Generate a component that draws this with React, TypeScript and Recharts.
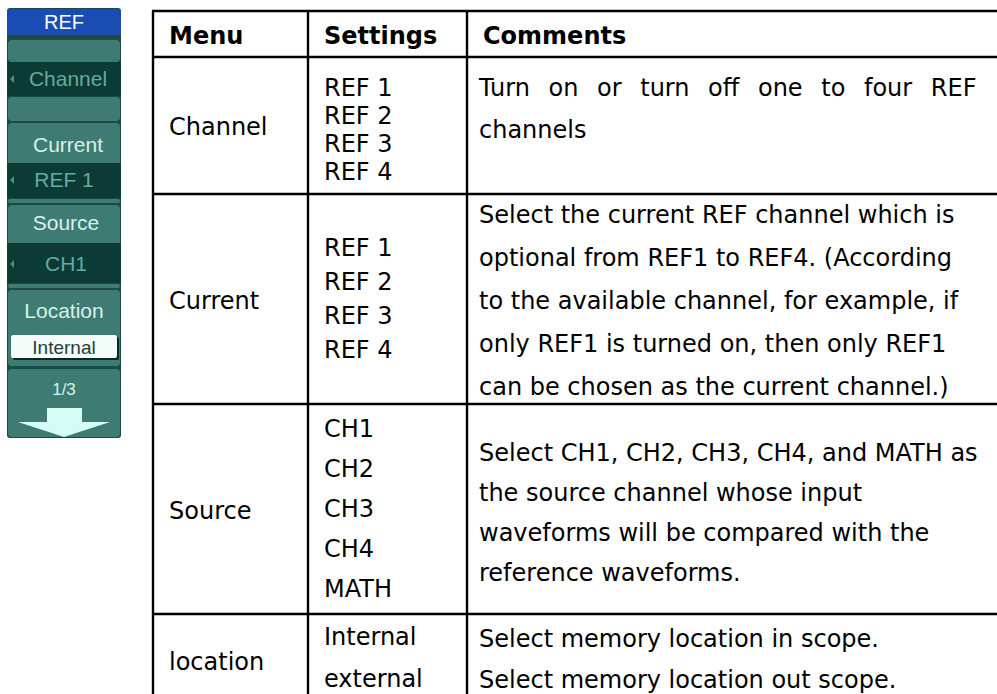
import { Surface, Layer, Rectangle, Text, Polygon } from "recharts";

const headers = ["Menu", "Settings", "Comments"];
const menuNames = ["Channel", "Current", "Source", "location"];
const settingLines = [
  ["REF 1", "REF 2", "REF 3", "REF 4"],
  ["REF 1", "REF 2", "REF 3", "REF 4"],
  ["CH1", "CH2", "CH3", "CH4", "MATH"],
  ["Internal", "external"]
];
const commentLines = [
  ["Turn on or turn off one to four REF", "channels"],
  [
    "Select the current REF channel which is",
    "optional from REF1 to REF4. (According",
    "to the available channel, for example, if",
    "only REF1 is turned on, then only REF1",
    "can be chosen as the current channel.)"
  ],
  [
    "Select CH1, CH2, CH3, CH4, and MATH as",
    "the source channel whose input",
    "waveforms will be compared with the",
    "reference waveforms."
  ],
  ["Select memory location in scope.", "Select memory location out scope."]
];
// soft key menu on the left
const softTitle = "REF";
const softKeys = [
  { label: "Channel", value: "" },
  { label: "Current", value: "REF 1" },
  { label: "Source", value: "CH1" },
  { label: "Location", value: "Internal" }
];
const pageLabel = "1/3";

const W = 997;
const H = 694;
const FONT = "'DejaVu Sans', Verdana, sans-serif";
const FS = 24;

// table grid
const colX = [153, 308, 467, 1010];
const rowY = [11, 57, 194, 404, 614, 760];
const textPad = 16;
const commentPad = 12;

// vertical placement of lines per body row
const settingStart = [87, 247, 428, 636];
const settingStep = [28, 34, 40, 42];
const commentStart = [87, 214, 452, 638];
const commentStep = [42, 43, 40, 41];
const justified = [[true, false], [], [], []];

const teal = "#3d7b73";
const dark = "#0c3a35";
const frame = "#1b4a44";
const keyText = "#d6f2ea";
const valueText = "#62ad9e";

const SoftMenu = () => {
  const x = 7;
  const w = 114;
  const cx = x + w / 2;
  const kf = "'Liberation Sans', Arial, sans-serif";
  return (
    <Layer>
      <Rectangle x={x} y={8} width={w} height={430} fill={frame} radius={3} />
      <Rectangle x={x} y={9} width={w} height={26} fill="#1a4db3" radius={[3, 3, 0, 0]} />
      <Text x={cx} y={22} textAnchor="middle" verticalAnchor="middle" fontFamily={kf} fontSize={20} fill="#ffffff">
        {softTitle}
      </Text>

      <Rectangle x={x + 1} y={40} width={w - 2} height={22} fill={teal} radius={4} />
      <Rectangle x={x} y={62} width={w} height={34} fill={dark} />
      <Polygon points={[{ x: 10, y: 79 }, { x: 14, y: 75 }, { x: 14, y: 83 }]} fill="#4d8f83" />
      <Text x={cx + 4} y={79} textAnchor="middle" verticalAnchor="middle" fontFamily={kf} fontSize={21} fill={valueText}>
        {softKeys[0].label}
      </Text>
      <Rectangle x={x + 1} y={97} width={w - 2} height={24} fill={teal} radius={4} />

      <Rectangle x={x + 1} y={123} width={w - 2} height={40} fill={teal} radius={[4, 4, 0, 0]} />
      <Text x={cx + 4} y={145} textAnchor="middle" verticalAnchor="middle" fontFamily={kf} fontSize={21} fill={keyText}>
        {softKeys[1].label}
      </Text>
      <Rectangle x={x} y={163} width={w} height={35} fill={dark} />
      <Polygon points={[{ x: 10, y: 180 }, { x: 14, y: 176 }, { x: 14, y: 184 }]} fill="#4d8f83" />
      <Text x={cx} y={180} textAnchor="middle" verticalAnchor="middle" fontFamily={kf} fontSize={21} fill={valueText}>
        {softKeys[1].value}
      </Text>
      <Rectangle x={x + 1} y={199} width={w - 2} height={4} fill={teal} radius={2} />

      <Rectangle x={x + 1} y={205} width={w - 2} height={38} fill={teal} radius={[4, 4, 0, 0]} />
      <Text x={cx + 2} y={223} textAnchor="middle" verticalAnchor="middle" fontFamily={kf} fontSize={21} fill={keyText}>
        {softKeys[2].label}
      </Text>
      <Rectangle x={x} y={243} width={w} height={40} fill={dark} />
      <Polygon points={[{ x: 10, y: 264 }, { x: 14, y: 260 }, { x: 14, y: 268 }]} fill="#4d8f83" />
      <Text x={cx + 2} y={264} textAnchor="middle" verticalAnchor="middle" fontFamily={kf} fontSize={21} fill={valueText}>
        {softKeys[2].value}
      </Text>
      <Rectangle x={x + 1} y={284} width={w - 2} height={4} fill={teal} radius={2} />

      <Rectangle x={x + 1} y={290} width={w - 2} height={76} fill={teal} radius={4} />
      <Text x={cx} y={311} textAnchor="middle" verticalAnchor="middle" fontFamily={kf} fontSize={21} fill={keyText}>
        {softKeys[3].label}
      </Text>
      <Rectangle x={13} y={337} width={106} height={23} fill="#0a2622" radius={2} />
      <Rectangle x={11} y={335} width={106} height={23} fill="#f4fbf8" radius={2} />
      <Text x={64} y={347} textAnchor="middle" verticalAnchor="middle" fontFamily={kf} fontSize={19} fill="#1c3f3a">
        {softKeys[3].value}
      </Text>

      <Rectangle x={x + 1} y={369} width={w - 2} height={68} fill={teal} radius={4} />
      <Text x={cx} y={389} textAnchor="middle" verticalAnchor="middle" fontFamily={kf} fontSize={17} fill="#d8f4ec">
        {pageLabel}
      </Text>
      <Polygon
        points={[
          { x: 47, y: 408 },
          { x: 82, y: 408 },
          { x: 82, y: 422 },
          { x: 110, y: 422 },
          { x: 64, y: 437 },
          { x: 18, y: 422 },
          { x: 47, y: 422 }
        ]}
        fill="#d4fbf4"
      />
    </Layer>
  );
};

const Table = () => {
  const cells: JSX.Element[] = [];
  headers.forEach((h, i) => {
    cells.push(
      <Text key={`h${i}`} x={colX[i] + textPad} y={35} verticalAnchor="middle" fontFamily={FONT} fontSize={FS} fontWeight="bold" fill="#000">
        {h}
      </Text>
    );
  });
  menuNames.forEach((name, r) => {
    const top = rowY[r + 1];
    const bottom = r === menuNames.length - 1 ? 706 : rowY[r + 2];
    cells.push(
      <Text key={`m${r}`} x={colX[0] + textPad} y={(top + bottom) / 2 + 1} verticalAnchor="middle" fontFamily={FONT} fontSize={FS} fill="#000">
        {name}
      </Text>
    );
    settingLines[r].forEach((s, k) => {
      cells.push(
        <Text key={`s${r}-${k}`} x={colX[1] + textPad} y={settingStart[r] + k * settingStep[r]} verticalAnchor="middle" fontFamily={FONT} fontSize={FS} fill="#000">
          {s}
        </Text>
      );
    });
    commentLines[r].forEach((c, k) => {
      const y = commentStart[r] + k * commentStep[r];
      if (justified[r][k]) {
        // spread words only, like a justified paragraph line
        cells.push(
          <text
            key={`c${r}-${k}`}
            x={colX[2] + commentPad}
            y={y + FS * 0.355}
            fontFamily={FONT}
            fontSize={FS}
            fill="#000"
            style={{ wordSpacing: "11px" }}
          >
            {c}
          </text>
        );
      } else {
        cells.push(
          <Text key={`c${r}-${k}`} x={colX[2] + commentPad} y={y} verticalAnchor="middle" fontFamily={FONT} fontSize={FS} fill="#000">
            {c}
          </Text>
        );
      }
    });
  });

  return (
    <Layer>
      {rowY.map((y, i) => (
        <line key={`r${i}`} x1={colX[0] - 1} x2={W} y1={y} y2={y} stroke="#000" strokeWidth={2.4} />
      ))}
      {colX.map((x, i) => (
        <line key={`c${i}`} x1={x} x2={x} y1={rowY[0]} y2={H + 20} stroke="#000" strokeWidth={2.4} />
      ))}
      {cells}
    </Layer>
  );
};

export default function App() {
  return (
    <div style={{ position: "absolute", left: 0, top: 0, width: W, height: H, background: "#fff" }}>
      <Surface width={W} height={H} viewBox={{ x: 0, y: 0, width: W, height: H }}>
        <SoftMenu />
        <Table />
      </Surface>
    </div>
  );
}
